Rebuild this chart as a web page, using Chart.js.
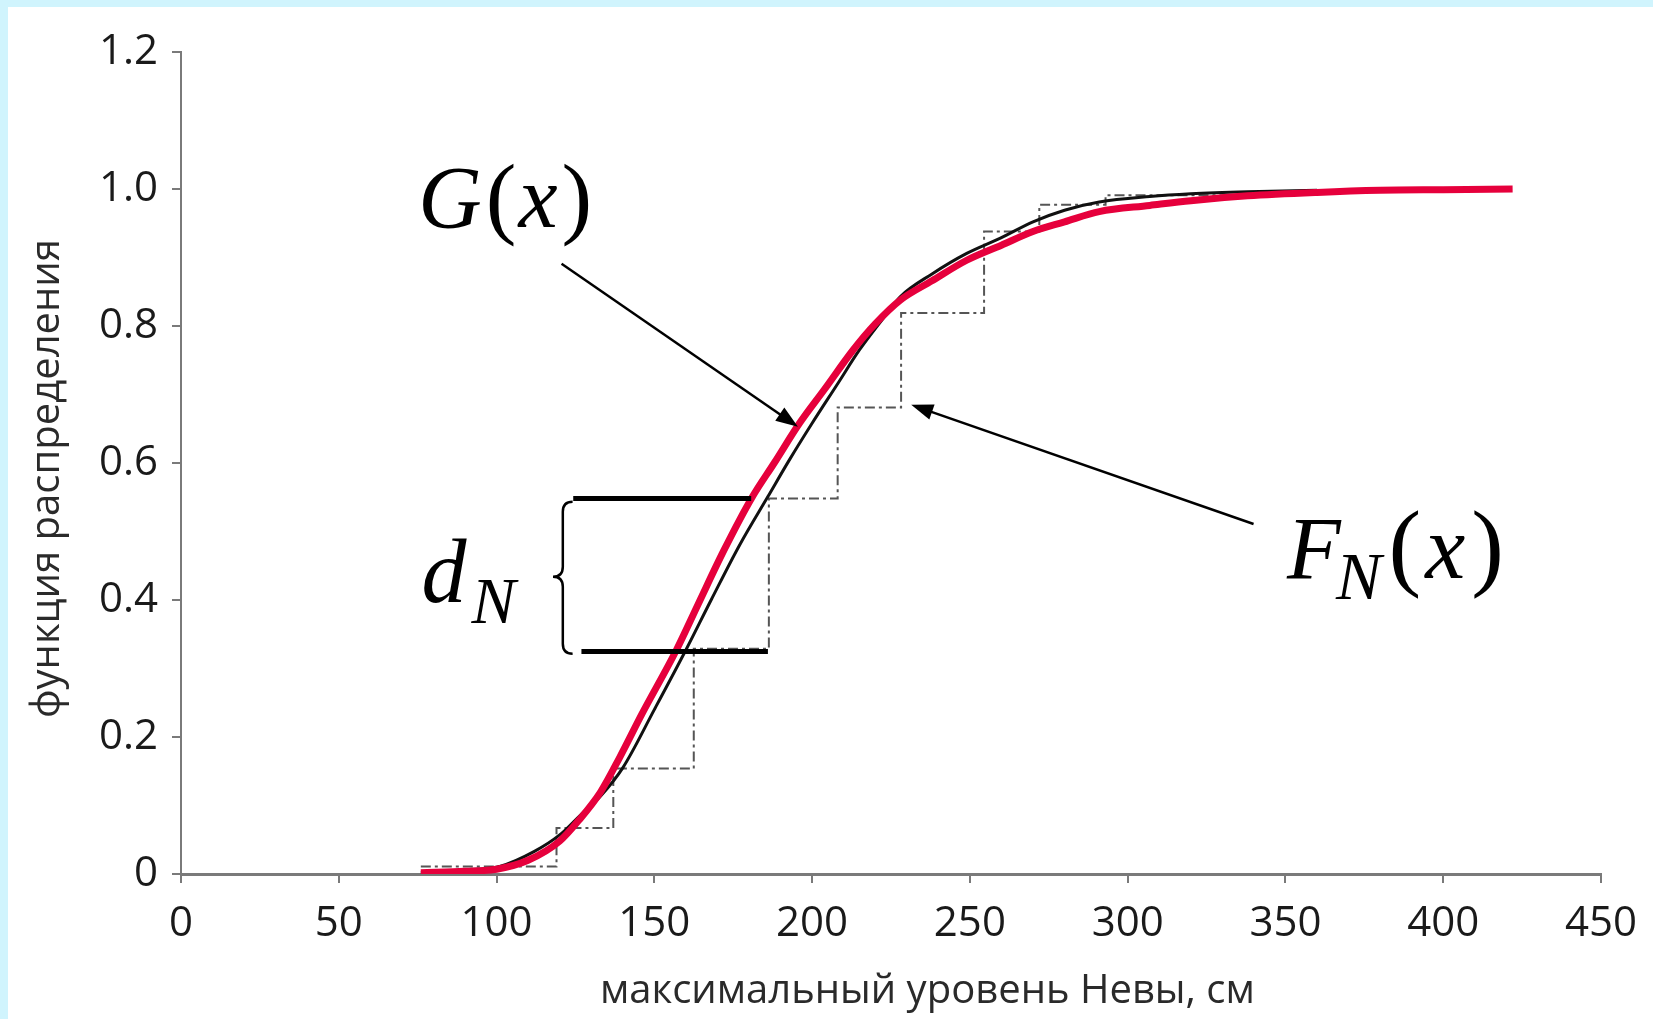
<!DOCTYPE html>
<html>
<head>
<meta charset="utf-8">
<script src="https://cdn.jsdelivr.net/npm/chart.js@4.4.0/dist/chart.umd.min.js"></script>
<style>
  html, body { margin: 0; padding: 0; background: #fff; }
  #wrap { position: absolute; left: 0; top: 0; width: 1653px; height: 1019px; }
  .edge { position: absolute; background: #d0f4fd; }
</style>
</head>
<body>
<div class="edge" style="left:0;top:0;width:1653px;height:7px"></div>
<div class="edge" style="left:0;top:0;width:8px;height:1019px"></div>
<div id="wrap"><canvas id="chart"></canvas></div>
<script>
// G(x) - теоретическая кривая (красная)
const redX = [76, 90, 100, 110, 120, 126, 133, 139, 146, 157, 164, 172, 181, 188, 196, 204, 213, 220, 228, 238, 249, 260, 270, 280, 291, 307, 320, 338, 360, 380, 400, 422];
const redY = [0.002, 0.004, 0.007, 0.02, 0.048, 0.078, 0.12, 0.17, 0.233, 0.327, 0.395, 0.472, 0.55, 0.6, 0.658, 0.708, 0.765, 0.803, 0.838, 0.866, 0.896, 0.918, 0.938, 0.952, 0.967, 0.976, 0.983, 0.99, 0.995, 0.998, 0.999, 1.0];

// вторая сглаженная кривая (черная)
const blackX = [76, 90, 101, 112, 120, 127, 133, 140, 150, 160, 168, 177, 186, 193, 200, 208, 215, 222, 228, 238, 249, 260, 270, 280, 291, 307, 320, 338, 360];
const blackY = [0.002, 0.006, 0.011, 0.033, 0.057, 0.088, 0.114, 0.155, 0.24, 0.327, 0.4, 0.48, 0.551, 0.606, 0.658, 0.715, 0.765, 0.808, 0.843, 0.876, 0.906, 0.929, 0.952, 0.969, 0.981, 0.989, 0.993, 0.996, 0.998];

// F_N(x) - эмпирическая ступенчатая функция
const stepX = [76, 119, 137, 162.5, 186.3, 208.1, 228.2, 254.5, 272, 293, 334];
const stepY = [0.011, 0.067, 0.154, 0.329, 0.548, 0.681, 0.819, 0.938, 0.977, 0.991, 0.991];

// отрезки d_N
const dnTopX = [124.3, 180.7];
const dnTopY = [0.548, 0.548];
const dnBotX = [126.9, 186];
const dnBotY = [0.325, 0.325];

// стрелки (в единицах осей): [x0, y0, x1, y1]
const gArrow = [120.6, 0.891, 195.5, 0.653];
const fArrow = [339.9, 0.511, 231.4, 0.685];
// фигурная скобка: x кончика, x середины, x концов, y верх, y середина, y низ
const brace = [117.9, 121.0, 124.1, 0.5435, 0.434, 0.3215];

const xTicks = [0, 50, 100, 150, 200, 250, 300, 350, 400, 450];
const yTicks = [0, 0.2, 0.4, 0.6, 0.8, 1.0, 1.2];

function pts(xs, ys) {
    let out = [];
    for (let i = 0; i < xs.length; i++) {
        out.push({ x: xs[i], y: ys[i] });
    }
    return out;
}

const serif = '"Liberation Serif", "DejaVu Serif", serif';

// подписи и стрелки поверх графика
const notes = {
    id: 'notes',
    afterDatasetsDraw(chart) {
        const ctx = chart.ctx;
        const sx = chart.scales.x, sy = chart.scales.y;
        const px = v => sx.getPixelForValue(v);
        const py = v => sy.getPixelForValue(v);

        ctx.save();
        ctx.strokeStyle = '#000';
        ctx.fillStyle = '#000';

        // скобка
        let xt = px(brace[0]), xm = px(brace[1]), xr = px(brace[2]);
        let yT = py(brace[3]), yM = py(brace[4]), yB = py(brace[5]);
        ctx.lineWidth = 2.5;
        ctx.beginPath();
        ctx.moveTo(xr, yT);
        ctx.quadraticCurveTo(xm, yT, xm, yT + 10);
        ctx.lineTo(xm, yM - 10);
        ctx.quadraticCurveTo(xm, yM, xt, yM);
        ctx.quadraticCurveTo(xm, yM, xm, yM + 10);
        ctx.lineTo(xm, yB - 10);
        ctx.quadraticCurveTo(xm, yB, xr, yB);
        ctx.stroke();

        // стрелки
        function arrow(a) {
            let x0 = px(a[0]), y0 = py(a[1]), x1 = px(a[2]), y1 = py(a[3]);
            let ang = Math.atan2(y1 - y0, x1 - x0);
            let len = 22, half = 8;
            ctx.lineWidth = 2.5;
            ctx.beginPath();
            ctx.moveTo(x0, y0);
            ctx.lineTo(x1 - Math.cos(ang) * len * 0.8, y1 - Math.sin(ang) * len * 0.8);
            ctx.stroke();
            ctx.beginPath();
            ctx.moveTo(x1, y1);
            ctx.lineTo(x1 - Math.cos(ang) * len - Math.sin(ang) * half, y1 - Math.sin(ang) * len + Math.cos(ang) * half);
            ctx.lineTo(x1 - Math.cos(ang) * len + Math.sin(ang) * half, y1 - Math.sin(ang) * len - Math.cos(ang) * half);
            ctx.closePath();
            ctx.fill();
        }
        arrow(gArrow);
        arrow(fArrow);

        // формулы
        function write(x, y, parts) {
            ctx.textBaseline = 'alphabetic';
            ctx.textAlign = 'left';
            for (let p of parts) {
                ctx.font = p[1];
                ctx.fillText(p[0], x + (p[2] || 0), y + (p[3] || 0));
                x += ctx.measureText(p[0]).width + (p[2] || 0);
            }
        }
        write(px(75.2), py(0.945), [
            ['G', 'italic 88px ' + serif],
            ['(', '92px ' + serif, 4],
            ['x', 'italic 88px ' + serif, 2],
            [')', '92px ' + serif, 4]
        ]);
        write(px(76.2), py(0.3975), [['d', 'italic 90px ' + serif]]);
        write(px(92.1), py(0.366), [['N', 'italic 66px ' + serif]]);

        write(px(350.5), py(0.4325), [['F', 'italic 88px ' + serif]]);
        write(px(366), py(0.402), [['N', 'italic 68px ' + serif]]);
        write(px(382.7), py(0.4325), [
            ['(', '98px ' + serif],
            ['x', 'italic 90px ' + serif, 4],
            [')', '98px ' + serif, 6]
        ]);
        ctx.restore();
    }
};

const tickFont = { family: '"Open Sans", "Noto Sans", sans-serif', size: 42 };
const titleFont = { family: '"Open Sans", "Noto Sans", sans-serif', size: 40 };

new Chart(document.getElementById('chart'), {
    type: 'line',
    data: {
        datasets: [
            {
                label: 'dN top',
                data: pts(dnTopX, dnTopY),
                borderColor: '#000', borderWidth: 5,
                pointRadius: 0, order: 0
            },
            {
                label: 'dN bottom',
                data: pts(dnBotX, dnBotY),
                borderColor: '#000', borderWidth: 5,
                pointRadius: 0, order: 0
            },
            {
                label: 'G(x)',
                data: pts(redX, redY),
                borderColor: '#e6003c', borderWidth: 7,
                pointRadius: 0, cubicInterpolationMode: 'monotone',
                order: 1
            },
            {
                label: 'black',
                data: pts(blackX, blackY),
                borderColor: '#111', borderWidth: 3,
                pointRadius: 0, cubicInterpolationMode: 'monotone',
                order: 2
            },
            {
                label: 'F_N(x)',
                data: pts(stepX, stepY),
                borderColor: '#555', borderWidth: 2,
                borderDash: [10, 4, 3, 4],
                stepped: 'before',
                pointRadius: 0, order: 3
            }
        ]
    },
    options: {
        responsive: true,
        maintainAspectRatio: false,
        animation: false,
        devicePixelRatio: 1,
        layout: { padding: { top: 52, right: 51, bottom: 0, left: 0 } },
        plugins: {
            legend: { display: false },
            tooltip: { enabled: false }
        },
        scales: {
            x: {
                type: 'linear',
                min: 0, max: 450,
                afterFit: function (s) { s.height = 145; },
                afterBuildTicks: function (s) { s.ticks = xTicks.map(v => ({ value: v })); },
                border: { color: '#7a7a7a', width: 3 },
                grid: { drawOnChartArea: false, drawTicks: true, tickLength: 9, color: '#7a7a7a', lineWidth: 2 },
                ticks: { font: tickFont, color: '#1a1a1a', padding: 16, maxRotation: 0 },
                title: {
                    display: true,
                    // ведущие пробелы сдвигают подпись вправо, как в оригинале
                    text: '       максимальный уровень Невы, см',
                    font: titleFont, color: '#2a2a2a',
                    padding: { top: 0, bottom: 3 }
                }
            },
            y: {
                type: 'linear',
                min: 0, max: 1.2,
                afterFit: function (s) { s.width = 181; },
                afterBuildTicks: function (s) { s.ticks = yTicks.map(v => ({ value: v })); },
                border: { color: '#7a7a7a', width: 2 },
                grid: { drawOnChartArea: false, drawTicks: true, tickLength: 9, color: '#7a7a7a', lineWidth: 2 },
                ticks: {
                    font: tickFont, color: '#1a1a1a', padding: 14,
                    callback: function (v) { return v === 0 ? '0' : v.toFixed(1); }
                },
                title: {
                    display: true,
                    text: 'функция распределения   ',
                    font: titleFont, color: '#2a2a2a',
                    padding: { top: 24, bottom: 0 }
                }
            }
        }
    },
    plugins: [notes]
});
</script>
</body>
</html>
